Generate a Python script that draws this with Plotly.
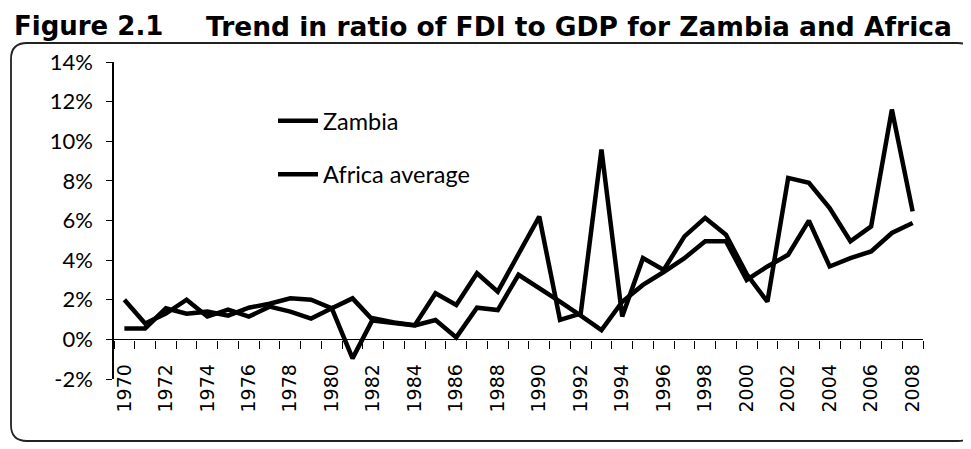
import plotly.graph_objects as go

years = list(range(1970, 2009))
zambia = [2.0, 0.8, 1.3, 2.0, 1.15, 1.5, 1.15, 1.65, 1.4, 1.05,
          1.57, -0.96, 1.06, 0.85, 0.72, 2.33, 1.74, 3.34, 2.41, 4.27,
          6.2, 0.98, 1.3, 9.58, 1.15, 4.1, 3.5, 5.2, 6.13, 5.28,
          3.3, 1.9, 8.15, 7.9, 6.63, 4.95, 5.7, 11.6, 6.46]
africa = [0.55, 0.55, 1.57, 1.3, 1.4, 1.2, 1.6, 1.8, 2.07, 2.0,
          1.57, 2.07, 0.95, 0.8, 0.7, 0.98, 0.1, 1.6, 1.48, 3.26,
          2.6, 1.9, 1.2, 0.47, 1.9, 2.75, 3.4, 4.1, 4.95, 4.95,
          3.0, 3.68, 4.27, 5.99, 3.68, 4.1, 4.44, 5.37, 5.87]
label_years = list(range(1970, 2009, 2))
label_text = [str(y) for y in label_years]
y_ticks = [-2, 0, 2, 4, 6, 8, 10, 12, 14]
y_text = [f"{v}%" for v in y_ticks]

W_FIG, H_FIG = 971, 449
L, R, T, B = 106, 915, 54, 371
PW, PH = R - L, B - T


def px(x):
    return (x - L) / PW


def py(y):
    return (B - y) / PH


fig = go.Figure()
fig.add_trace(go.Scatter(x=years, y=zambia, mode="lines", name="Zambia",
                         legendgroup="z",
                         line=dict(color="black", width=4.5)))
fig.add_trace(go.Scatter(x=years, y=africa, mode="lines", name="Africa average",
                         legendgroup="a",
                         line=dict(color="black", width=4.5)))

# rounded frame around chart
x0, x1, y0, y1, r = 3, 966, 35, 433, 16
path = (f"M {px(x0 + r)},{py(y0)} L {px(x1 - r)},{py(y0)} "
        f"Q {px(x1)},{py(y0)} {px(x1)},{py(y0 + r)} "
        f"L {px(x1)},{py(y1 - r)} Q {px(x1)},{py(y1)} {px(x1 - r)},{py(y1)} "
        f"L {px(x0 + r)},{py(y1)} Q {px(x0)},{py(y1)} {px(x0)},{py(y1 - r)} "
        f"L {px(x0)},{py(y0 + r)} Q {px(x0)},{py(y0)} {px(x0 + r)},{py(y0)} Z")
fig.add_shape(type="path", path=path, xref="paper", yref="paper",
              line=dict(color="#222222", width=1.8), layer="below")

fig.add_annotation(text="<b>Figure 2.1</b>", xref="paper", yref="paper",
                   x=px(4), y=py(18), xanchor="left", yanchor="middle",
                   showarrow=False,
                   font=dict(family="DejaVu Sans", size=26, color="black"))
fig.add_annotation(text="<b>Trend in ratio of FDI to GDP for Zambia and Africa</b>",
                   xref="paper", yref="paper",
                   x=px(946), y=py(18), xanchor="right", yanchor="middle",
                   showarrow=False,
                   font=dict(family="DejaVu Sans", size=26.5, color="black"))
fig.add_annotation(text="Source: World Bank", xref="paper", yref="paper",
                   x=px(500), y=py(437), xanchor="center", yanchor="top",
                   showarrow=False, font=dict(family="Lato", size=20, color="black"))

fig.update_layout(
    width=W_FIG, height=H_FIG,
    margin=dict(l=L, r=W_FIG - R, t=T, b=H_FIG - B, autoexpand=False),
    paper_bgcolor="white", plot_bgcolor="white",
    showlegend=True,
    legend=dict(x=px(265), y=py(91), xanchor="left", yanchor="top",
                font=dict(family="Lato", size=23.5, color="black"),
                tracegroupgap=20, bgcolor="rgba(0,0,0,0)", itemwidth=40),
    font=dict(family="Lato", color="black"),
)
fig.update_xaxes(
    range=[1969.5, 2008.5], anchor="free", position=2 / 16,
    tickmode="array", tickvals=label_years, ticktext=label_text,
    tickangle=-90, ticks="", showgrid=False, zeroline=False,
    showline=True, linecolor="black", linewidth=1.3,
    tickfont=dict(family="DejaVu Sans", size=19, color="black"),
    ticklabelstandoff=16,
    minor=dict(ticks="outside", ticklen=8, tickcolor="black", tickwidth=1.2,
               tick0=1969.5, dtick=1, showgrid=False),
)
fig.update_yaxes(
    range=[-2, 14], tickmode="array", tickvals=y_ticks, ticktext=y_text,
    ticks="outside", ticklen=6, tickcolor="black", tickwidth=1.2,
    showline=True, linecolor="black", linewidth=1.5,
    showgrid=False, zeroline=False, ticklabelstandoff=9,
    tickfont=dict(family="Lato", size=22, color="black"),
)

fig.write_html("out.html")
